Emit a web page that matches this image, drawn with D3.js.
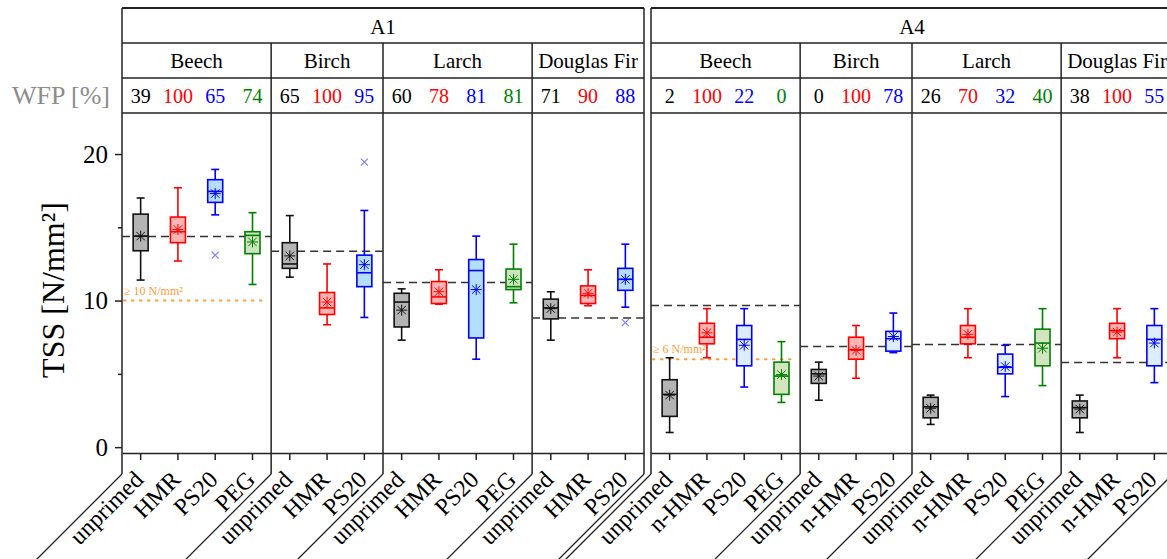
<!DOCTYPE html>
<html>
<head>
<meta charset="utf-8">
<script src="https://cdn.jsdelivr.net/npm/d3@7"></script>
<style>
  body { margin: 0; background: #fff; overflow: hidden; }
  svg { display: block; font-family: 'Liberation Serif', 'Times New Roman', serif; }
</style>
</head>
<body>
<div id="chart"></div>
<script>
// ---- data ----
const panels = ['A1', 'A4'];
const groups = ['Beech', 'Birch', 'Larch', 'Douglas Fir'];
const treatmentsA1 = [['unprimed', 'HMR', 'PS20', 'PEG'], ['unprimed', 'HMR', 'PS20'], ['unprimed', 'HMR', 'PS20', 'PEG'], ['unprimed', 'HMR', 'PS20']];
const treatmentsA4 = [['unprimed', 'n-HMR', 'PS20', 'PEG'], ['unprimed', 'n-HMR', 'PS20'], ['unprimed', 'n-HMR', 'PS20', 'PEG'], ['unprimed', 'n-HMR', 'PS20']];
const wfpA1 = [[39, 100, 65, 74], [65, 100, 95], [60, 78, 81, 81], [71, 90, 88]];
const wfpA4 = [[2, 100, 22, 0], [0, 100, 78], [26, 70, 32, 40], [38, 100, 55]];

// [whisker low, q1, median, q3, whisker high, mean]
const boxesA1 = [
  [11.4, 13.4, 14.4, 15.9, 17.0, 14.4],
  [12.7, 13.95, 14.7, 15.7, 17.7, 14.85],
  [15.85, 16.7, 17.45, 18.25, 18.95, 17.3],
  [11.1, 13.2, 14.45, 14.7, 16.0, 14.0],
  [11.6, 12.2, 12.5, 13.95, 15.8, 13.05],
  [8.35, 9.05, 9.5, 10.55, 12.5, 9.9],
  [8.85, 10.95, 11.9, 13.1, 16.15, 12.45],
  [7.3, 8.2, 9.9, 10.5, 10.8, 9.35],
  [9.75, 9.8, 10.25, 11.3, 12.1, 10.6],
  [6.0, 7.45, 12.05, 12.8, 14.4, 10.75],
  [9.85, 10.75, 10.95, 12.15, 13.85, 11.45],
  [7.3, 8.75, 9.5, 10.1, 10.6, 9.45],
  [9.65, 9.8, 10.35, 11.0, 12.1, 10.5],
  [9.55, 10.7, 11.45, 12.2, 13.85, 11.45]
];
const boxesA4 = [
  [1.0, 2.1, 3.6, 4.6, 6.1, 3.55],
  [6.1, 7.05, 7.5, 8.45, 9.45, 7.8],
  [4.1, 5.55, 7.35, 8.3, 9.45, 6.95],
  [3.05, 3.6, 4.85, 5.8, 7.2, 4.95],
  [3.2, 4.35, 5.0, 5.3, 5.8, 4.85],
  [4.7, 6.0, 6.65, 7.5, 8.3, 6.6],
  [6.45, 6.55, 7.4, 7.9, 9.15, 7.55],
  [1.55, 2.0, 2.75, 3.4, 3.55, 2.65],
  [6.1, 7.05, 7.5, 8.3, 9.45, 7.7],
  [3.45, 5.0, 5.45, 6.35, 6.95, 5.5],
  [4.2, 5.55, 7.1, 8.05, 9.45, 6.75],
  [1.0, 2.0, 2.7, 3.15, 3.55, 2.6],
  [6.1, 7.4, 7.95, 8.45, 9.45, 7.85],
  [4.4, 5.55, 7.35, 8.3, 9.45, 7.1]
];
// [category index, value]
const outliersA1 = [[2, 13.1], [6, 19.45], [13, 8.5]];
const outliersA4 = [];
const refLinesA1 = [14.38, 13.36, 11.23, 8.82];
const refLinesA4 = [9.66, 6.86, 7.0, 5.77];
const thresholdA1 = 10;
const thresholdA4 = 6;
const yTicks = [0, 5, 10, 15, 20];

// ---- styles ----
const strokeColors = ['#111', '#ff0000', '#0000ff', '#008000'];
const fillsA1 = ['#b4b4b4', '#ffb4b4', '#b4deff', '#cfe3c0'];
const fillsA4 = ['#b4b4b4', '#ffb4b4', '#dcedff', '#d3e4c0'];
const frameColor = '#222';

const W = 1167, H = 559;
const panelLeft = [122, 651];
const panelW = 522;
const rowY = [8, 43, 78, 113];
const plotBottom = 453;
const labelLineY = 474;

const svg = d3.select('#chart').append('svg').attr('width', W).attr('height', H);

const y = d3.scaleLinear().domain([-0.4, 22.8]).range([plotBottom, rowY[3]]);

const panelData = [
  { name: panels[0], treatments: treatmentsA1, wfp: wfpA1, boxes: boxesA1, outliers: outliersA1, refs: refLinesA1, threshold: thresholdA1, fills: fillsA1 },
  { name: panels[1], treatments: treatmentsA4, wfp: wfpA4, boxes: boxesA4, outliers: outliersA4, refs: refLinesA4, threshold: thresholdA4, fills: fillsA4 }
];

panelData.forEach((p, pi) => {
  const x0 = panelLeft[pi];
  const g = svg.append('g');

  // flatten categories
  const cats = [];
  p.treatments.forEach((ts, gi) => ts.forEach((t, ti) => {
    cats.push({ key: gi + '|' + t, group: gi, ti: ti, label: t, wfp: p.wfp[gi][ti] });
  }));
  cats.forEach((c, i) => { c.box = p.boxes[i]; });

  const x = d3.scaleBand().domain(cats.map(c => c.key)).range([x0, x0 + panelW]).padding(0);
  const bw = x.bandwidth();
  const cx = k => x(k) + bw / 2;

  const groupBounds = groups.map((gname, gi) => {
    const ks = cats.filter(c => c.group === gi).map(c => c.key);
    return { name: gname, x1: x(ks[0]), x2: x(ks[ks.length - 1]) + bw };
  });

  // --- header ---
  g.append('text').attr('x', x0 + panelW / 2).attr('y', 34).attr('text-anchor', 'middle')
    .style('font-size', '21px').text(p.name);
  [rowY[1], rowY[2]].forEach(yy => {
    g.append('line').attr('x1', x0).attr('x2', x0 + panelW).attr('y1', yy).attr('y2', yy)
      .attr('stroke', frameColor).attr('stroke-width', 1.5);
  });
  g.append('line').attr('x1', x0).attr('x2', x0 + panelW).attr('y1', rowY[0]).attr('y2', rowY[0])
    .attr('stroke', frameColor).attr('stroke-width', 2);
  g.append('line').attr('x1', x0).attr('x2', x0 + panelW).attr('y1', rowY[3]).attr('y2', rowY[3])
    .attr('stroke', frameColor).attr('stroke-width', 1.5);

  g.selectAll('.gname').data(groupBounds).enter().append('text')
    .attr('x', d => (d.x1 + d.x2) / 2).attr('y', 68).attr('text-anchor', 'middle')
    .style('font-size', '21px').text(d => d.name);

  g.selectAll('.wfp').data(cats).enter().append('text')
    .attr('x', d => cx(d.key)).attr('y', 103).attr('text-anchor', 'middle')
    .style('font-size', '20px').attr('fill', d => d.ti === 0 ? '#000' : strokeColors[d.ti])
    .text(d => d.wfp);

  // --- frame verticals & diagonals ---
  const bounds = [x0].concat(groupBounds.map(d => d.x2));
  bounds.forEach((bx, i) => {
    const top = (i === 0 || i === bounds.length - 1) ? rowY[0] : rowY[1];
    g.append('line').attr('x1', bx).attr('x2', bx).attr('y1', top).attr('y2', labelLineY)
      .attr('stroke', frameColor).attr('stroke-width', 1.5);
    g.append('line').attr('x1', bx).attr('x2', bx - 120).attr('y1', labelLineY).attr('y2', labelLineY + 120)
      .attr('stroke', frameColor).attr('stroke-width', 1.3);
  });

  // --- axes ---
  const xAxis = d3.axisBottom(x).tickSize(7).tickSizeOuter(0).tickFormat('');
  g.append('g').attr('transform', `translate(0,${plotBottom})`).call(xAxis)
    .call(s => s.selectAll('line,path').attr('stroke', frameColor).attr('stroke-width', 1.5));

  g.selectAll('.xlab').data(cats).enter().append('text')
    .attr('transform', d => `translate(${cx(d.key) + 4},${481}) rotate(-45)`)
    .attr('text-anchor', 'end').style('font-size', '24px').text(d => d.label);

  if (pi === 0) {
    const yAxis = d3.axisLeft(y).tickValues(yTicks.filter(v => v % 10 === 0)).tickSize(7).tickSizeOuter(0).tickPadding(7);
    const ya = g.append('g').attr('transform', `translate(${x0},0)`).call(yAxis);
    ya.select('.domain').remove();
    ya.selectAll('line').attr('stroke', frameColor).attr('stroke-width', 1.5);
    ya.selectAll('text').style('font-size', '25px').attr('fill', '#000').style('font-family', "'Liberation Serif', serif");
    const yMinor = d3.axisLeft(y).tickValues(yTicks.filter(v => v % 10 !== 0)).tickSize(4).tickFormat('');
    const ym = g.append('g').attr('transform', `translate(${x0},0)`).call(yMinor);
    ym.select('.domain').remove();
    ym.selectAll('line').attr('stroke', frameColor).attr('stroke-width', 1.5);

    svg.append('text').attr('transform', `translate(64,290) rotate(-90)`)
      .attr('text-anchor', 'middle').style('font-size', '32px').text('TSS [N/mm²]');
    svg.append('text').attr('x', 12).attr('y', 104).attr('fill', '#8c8c8c')
      .style('font-size', '26px').text('WFP [%]');
  }

  // --- reference lines ---
  g.selectAll('.ref').data(groupBounds).enter().append('line')
    .attr('x1', d => d.x1).attr('x2', d => d.x2)
    .attr('y1', (d, i) => y(p.refs[i])).attr('y2', (d, i) => y(p.refs[i]))
    .attr('stroke', '#333').attr('stroke-width', 1.5).attr('stroke-dasharray', '8,5');

  const gb0 = groupBounds[0];
  g.append('line').attr('x1', gb0.x1 + 2).attr('x2', gb0.x2 - 4)
    .attr('y1', y(p.threshold)).attr('y2', y(p.threshold))
    .attr('stroke', '#ff9a33').attr('stroke-width', 2).attr('stroke-dasharray', '1.5,6.5').attr('stroke-linecap', 'round');
  g.append('text').attr('x', gb0.x1 + 2).attr('y', y(p.threshold) - 6)
    .attr('fill', '#ff9a33').style('font-size', '12px').text('≥ ' + p.threshold + ' N/mm²');

  // --- boxes ---
  const boxW = 15, capW = 8;
  const bx = g.selectAll('.box').data(cats).enter().append('g');
  const col = d => strokeColors[d.ti];

  bx.append('line').attr('x1', d => cx(d.key)).attr('x2', d => cx(d.key))
    .attr('y1', d => y(d.box[0])).attr('y2', d => y(d.box[4]))
    .attr('stroke', col).attr('stroke-width', 1.6);
  [0, 4].forEach(j => {
    bx.append('line').attr('x1', d => cx(d.key) - capW / 2).attr('x2', d => cx(d.key) + capW / 2)
      .attr('y1', d => y(d.box[j])).attr('y2', d => y(d.box[j]))
      .attr('stroke', col).attr('stroke-width', 1.6);
  });
  bx.append('rect').attr('x', d => cx(d.key) - boxW / 2).attr('width', boxW)
    .attr('y', d => y(d.box[3])).attr('height', d => y(d.box[1]) - y(d.box[3]))
    .attr('fill', d => p.fills[d.ti]).attr('stroke', col).attr('stroke-width', 1.6);
  bx.append('line').attr('x1', d => cx(d.key) - boxW / 2).attr('x2', d => cx(d.key) + boxW / 2)
    .attr('y1', d => y(d.box[2])).attr('y2', d => y(d.box[2]))
    .attr('stroke', col).attr('stroke-width', 1.6);
  const s = 5.5, sd = 4.2;
  bx.append('path')
    .attr('transform', d => `translate(${cx(d.key)},${y(d.box[5])})`)
    .attr('d', `M0,${-s}L0,${s}M${-sd},${-sd}L${sd},${sd}M${-sd},${sd}L${sd},${-sd}M${-s},0L${s},0`)
    .attr('stroke', col).attr('stroke-width', 1).attr('fill', 'none');

  // outliers
  g.selectAll('.out').data(p.outliers).enter().append('path')
    .attr('transform', d => `translate(${cx(cats[d[0]].key)},${y(d[1])})`)
    .attr('d', 'M-3.5,-3.5L3.5,3.5M-3.5,3.5L3.5,-3.5')
    .attr('stroke', d => cats[d[0]].ti === 2 ? '#7d7dff' : '#888').attr('stroke-width', 1.2);
});
</script>
</body>
</html>
